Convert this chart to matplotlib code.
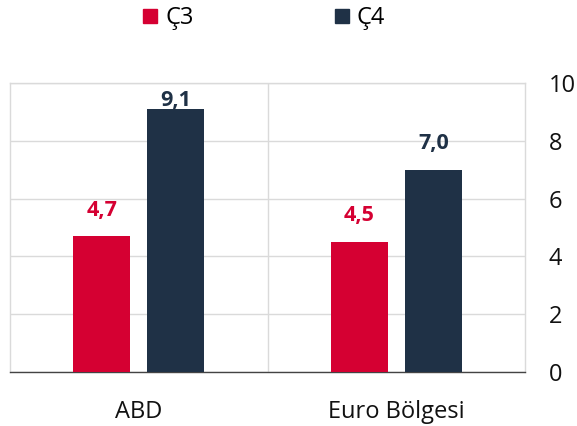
import matplotlib.pyplot as plt
from matplotlib.lines import Line2D

plt.rcParams['font.family'] = ['Open Sans', 'DejaVu Sans']

categories = ['ABD', 'Euro Bölgesi']
q3_values = [4.7, 4.5]
q4_values = [9.1, 7.0]
series_names = ['Ç3', 'Ç4']
y_ticks = [0, 2, 4, 6, 8, 10]

red = '#D50032'
navy = '#1F3146'
grid_col = '#DADADA'

fig = plt.figure(figsize=(5.77, 4.26), dpi=100)
ax = fig.add_axes([0.0173, 0.1268, 0.8927, 0.6782])

x = range(len(categories))
w = 0.222
off = 0.144
bars3 = ax.bar([i - off for i in x], q3_values, width=w, color=red, zorder=3)
bars4 = ax.bar([i + off for i in x], q4_values, width=w, color=navy, zorder=3)

def fmt(v):
    return ('%.1f' % v).replace('.', ',')

for bars, vals, col in [(bars3, q3_values, red), (bars4, q4_values, navy)]:
    for b, v in zip(bars, vals):
        ax.text(b.get_x() + b.get_width() / 2, min(v + 0.9, 9.41), fmt(v),
                ha='center', va='center', color=col, fontsize=15.5,
                fontweight='bold', zorder=4)

ax.set_xlim(-0.5, 1.5)
ax.set_ylim(0, 10)
ax.set_yticks(y_ticks)
ax.set_yticklabels([str(t) for t in y_ticks])
ax.yaxis.tick_right()
ax.set_xticks(list(x))
ax.set_xticklabels(categories)
ax.tick_params(axis='both', length=0, labelsize=17, colors='#111111')
ax.tick_params(axis='y', pad=17)
ax.tick_params(axis='x', pad=20)

ax.grid(axis='y', color=grid_col, linewidth=1, zorder=0)
ax.axvline(0.5, color=grid_col, linewidth=1, zorder=0)
for s in ['left', 'right', 'top']:
    ax.spines[s].set_color(grid_col)
    ax.spines[s].set_linewidth(1)
ax.spines['bottom'].set_color('#444444')
ax.spines['bottom'].set_linewidth(1)

handles = [Line2D([], [], marker='s', linestyle='none', markersize=9.5, color=red),
           Line2D([], [], marker='s', linestyle='none', markersize=9.5, color=navy)]
fig.legend(handles, series_names, loc='center', bbox_to_anchor=(0.458, 0.958),
           ncol=2, frameon=False, fontsize=17, handlelength=0.6,
           handletextpad=0.35, columnspacing=5.95)

fig.savefig('out.png', dpi=100)
